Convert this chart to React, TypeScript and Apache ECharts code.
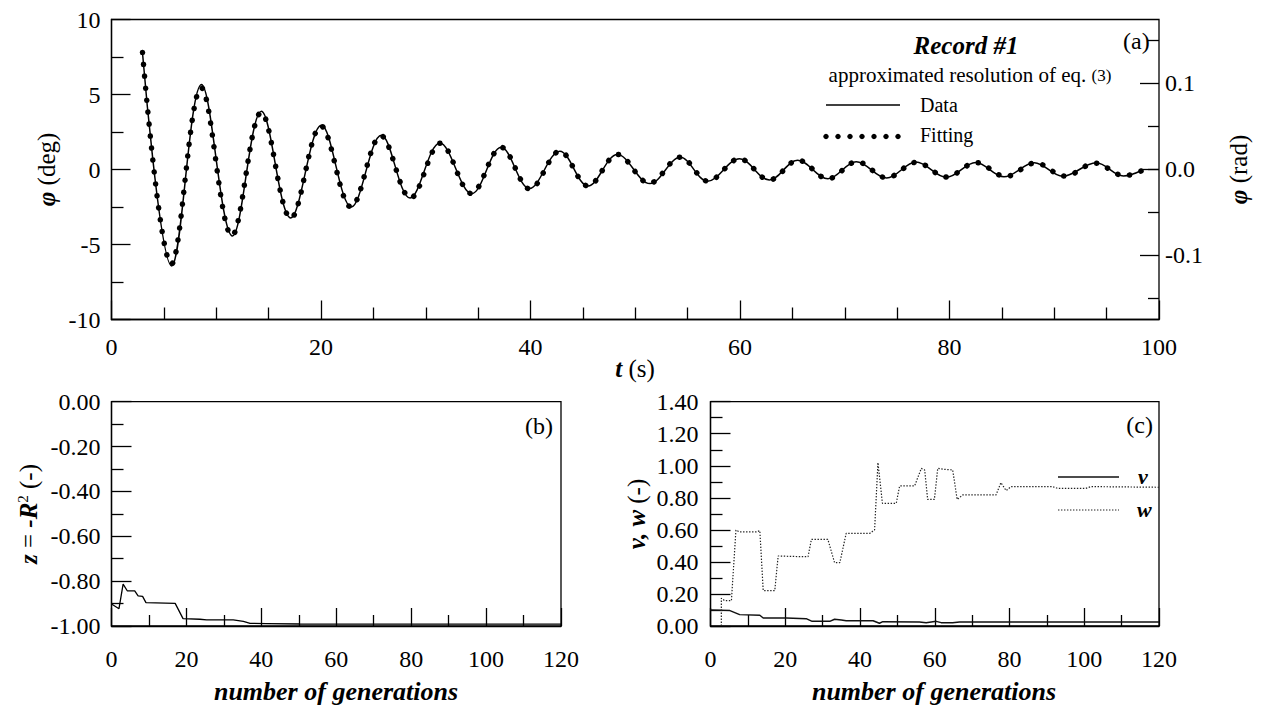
import React, { useEffect, useRef } from 'react';
import * as echarts from 'echarts';

// ---------- Panel (a): phi (deg) vs t (s) ----------
const tData = [2.96, 5.75, 8.59, 11.55, 14.31, 17.11, 20.04, 22.9, 25.76, 28.5, 31.35, 34.4, 37.2, 39.9, 42.8, 45.5, 48.3, 51.4, 54.3, 56.9, 59.95, 62.8, 65.5, 68.4, 71.1, 74.0, 76.8, 79.7, 82.5, 85.2, 88.1, 90.8, 94.0, 96.6, 98.4];
const phiData = [7.77, -6.43, 5.66, -4.43, 3.88, -3.23, 2.95, -2.5, 2.28, -1.9, 1.77, -1.61, 1.48, -1.27, 1.22, -1.1, 1.0, -0.94, 0.81, -0.78, 0.71, -0.7, 0.61, -0.61, 0.52, -0.57, 0.5, -0.52, 0.47, -0.49, 0.45, -0.45, 0.45, -0.43, -0.05];
const tFit = [2.96, 5.72, 8.57, 11.5, 14.3, 17.12, 20.0, 22.87, 25.72, 28.55, 31.4, 34.35, 37.2, 39.95, 42.8, 45.5, 48.3, 51.35, 54.3, 56.95, 59.95, 62.8, 65.55, 68.4, 71.15, 74.0, 76.85, 79.7, 82.55, 85.35, 88.2, 91.0, 93.9, 96.7, 98.3];
const phiFit = [7.8, -6.3, 5.45, -4.4, 3.8, -3.25, 2.9, -2.5, 2.25, -1.9, 1.75, -1.6, 1.48, -1.3, 1.22, -1.1, 1.0, -0.92, 0.82, -0.78, 0.72, -0.7, 0.62, -0.62, 0.52, -0.55, 0.48, -0.5, 0.46, -0.47, 0.44, -0.44, 0.42, -0.42, -0.1];

// ---------- Panel (b): z = -R^2 vs generations ----------
const genB = [0, 2, 3.1, 4.2, 6.2, 7.1, 8.3, 9.2, 17, 19.1, 23.6, 25.4, 32.5, 35.2, 37, 41.4, 50.3, 120];
const zB = [-0.902, -0.923, -0.813, -0.843, -0.843, -0.866, -0.868, -0.896, -0.899, -0.967, -0.97, -0.973, -0.973, -0.979, -0.988, -0.989, -0.991, -0.992];

// ---------- Panel (c): v, w vs generations ----------
const genV = [0, 5.2, 7.8, 13.2, 14.1, 20.3, 25.6, 27.2, 31.9, 33.2, 35, 36.3, 43.5, 45.2, 46.1, 55.9, 57.7, 60.4, 61.7, 64.8, 66.6, 120];
const vVals = [0.1, 0.096, 0.071, 0.067, 0.05, 0.05, 0.046, 0.029, 0.029, 0.042, 0.037, 0.033, 0.033, 0.017, 0.027, 0.025, 0.021, 0.029, 0.021, 0.021, 0.025, 0.025];
const genW = [2.9, 2.9, 3.8, 5.6, 6.8, 7.8, 12.3, 13.2, 14.1, 17.2, 18.1, 23.9, 26.1, 27, 31.4, 33.2, 34.6, 36.3, 42.6, 43.9, 44.8, 46, 49.7, 50.6, 54.6, 56.4, 57.3, 58.1, 59.9, 60.8, 62.6, 64.8, 66, 67.5, 76.4, 77.7, 79.1, 80.4, 91.5, 92.9, 100.4, 101.8, 120];
const wVals = [0, 0.173, 0.158, 0.158, 0.599, 0.587, 0.587, 0.595, 0.221, 0.221, 0.437, 0.433, 0.433, 0.541, 0.541, 0.395, 0.395, 0.578, 0.578, 0.6, 1.02, 0.766, 0.766, 0.874, 0.874, 0.984, 0.974, 0.79, 0.79, 0.984, 0.978, 0.974, 0.79, 0.818, 0.818, 0.895, 0.845, 0.87, 0.87, 0.859, 0.859, 0.87, 0.866];

const SERIF = 'Liberation Serif';
const BLK = '#000';

const pairs = (xs: number[], ys: number[]) => xs.map((x, i) => [x, ys[i]]);

function valAxis(o: any) {
  const {
    gridIndex, min, max, interval, minorSplit, tickLen, minorLen, margin, formatter, position, showLabel = true, showLine = true,
  } = o;
  return {
    gridIndex,
    type: 'value',
    position,
    min,
    max,
    interval,
    axisLine: { show: showLine, onZero: false, lineStyle: { color: BLK, width: 1.3 } },
    axisTick: { show: true, inside: true, length: tickLen, lineStyle: { color: BLK, width: 1.3 } },
    minorTick: minorSplit
      ? { show: true, splitNumber: minorSplit, length: minorLen, lineStyle: { color: BLK, width: 1.3 } }
      : { show: false },
    axisLabel: {
      show: showLabel,
      margin,
      fontSize: 24,
      fontFamily: SERIF,
      fontWeight: 'normal',
      fontStyle: 'normal',
      color: BLK,
      formatter,
    },
    splitLine: { show: false },
    minorSplitLine: { show: false },
  };
}

function hiddenAxis(gridIndex: number) {
  return { gridIndex, type: 'value', min: 0, max: 1, show: false };
}

const txt = (x: number, y: number, text: string, extra: any = {}, rotation = 0) => ({
  type: 'text',
  x,
  y,
  rotation,
  silent: true,
  style: {
    text,
    fill: BLK,
    fontFamily: SERIF,
    fontSize: 24,
    fontWeight: 'normal',
    fontStyle: 'normal',
    align: 'center',
    verticalAlign: 'middle',
    ...extra,
  },
});

const bi = { fontFamily: SERIF, fontWeight: 'bold', fontStyle: 'italic', fontSize: 25, fill: BLK };
const rg = (size: number) => ({ fontFamily: SERIF, fontWeight: 'normal', fontStyle: 'normal', fontSize: size, fill: BLK });

function buildOption() {
  const grids = [
    { left: 111.5, top: 19.5, width: 1047.5, height: 300 },
    { left: 111.5, top: 83.3, width: 1047.5, height: 171.9 },
    { left: 111.5, top: 40.3, width: 1047.5, height: 257.8 },
    { left: 111.5, top: 401.7, width: 449.5, height: 224.3 },
    { left: 710.5, top: 401.7, width: 448.5, height: 224.3 },
  ].map((g, i) => ({
    ...g,
    show: i === 0 || i >= 3,
    borderColor: BLK,
    borderWidth: 1.3,
    backgroundColor: 'transparent',
    containLabel: false,
    outerBoundsMode: 'none',
  }));

  const xAxis = [
    valAxis({ gridIndex: 0, min: 0, max: 100, interval: 20, minorSplit: 4, tickLen: 19, minorLen: 12, margin: 15 }),
    hiddenAxis(1),
    hiddenAxis(2),
    valAxis({ gridIndex: 3, min: 0, max: 120, interval: 20, minorSplit: 2, tickLen: 18, minorLen: 11, margin: 21 }),
    valAxis({ gridIndex: 4, min: 0, max: 120, interval: 20, minorSplit: 2, tickLen: 18, minorLen: 11, margin: 21 }),
  ];

  const yAxis = [
    valAxis({ gridIndex: 0, position: 'left', min: -10, max: 10, interval: 5, minorSplit: 2, tickLen: 19, minorLen: 12, margin: 11 }),
    valAxis({
      gridIndex: 1, position: 'right', min: -0.1, max: 0.1, interval: 0.1, minorSplit: 2, tickLen: 19, minorLen: 11, margin: 6,
      showLine: false, formatter: (v: number) => v.toFixed(1),
    }),
    valAxis({
      gridIndex: 2, position: 'right', min: -0.15, max: 0.15, interval: 0.15, tickLen: 11, margin: 6,
      showLine: false, showLabel: false,
    }),
    valAxis({
      gridIndex: 3, position: 'left', min: -1, max: 0, interval: 0.2, minorSplit: 2, tickLen: 20, minorLen: 12, margin: 11,
      formatter: (v: number) => v.toFixed(2),
    }),
    valAxis({
      gridIndex: 4, position: 'left', min: 0, max: 1.4, interval: 0.2, minorSplit: 2, tickLen: 20, minorLen: 12, margin: 12,
      formatter: (v: number) => v.toFixed(2),
    }),
  ];

  const series = [
    {
      name: 'Data', type: 'line', xAxisIndex: 0, yAxisIndex: 0, data: pairs(tData, phiData),
      smooth: 0.36, showSymbol: false, lineStyle: { color: BLK, width: 1.5 }, z: 2,
    },
    {
      name: 'Fitting', type: 'line', xAxisIndex: 0, yAxisIndex: 0, data: pairs(tFit, phiFit),
      smooth: 0.36, showSymbol: false, lineStyle: { color: BLK, width: 5.5, type: [0.1, 11.9], cap: 'round' }, z: 3,
    },
    {
      name: 'z', type: 'line', xAxisIndex: 3, yAxisIndex: 3, data: pairs(genB, zB),
      showSymbol: false, lineStyle: { color: BLK, width: 1.3 },
    },
    {
      name: 'v', type: 'line', xAxisIndex: 4, yAxisIndex: 4, data: pairs(genV, vVals),
      showSymbol: false, lineStyle: { color: '#111', width: 1.5 },
    },
    {
      name: 'w', type: 'line', xAxisIndex: 4, yAxisIndex: 4, data: pairs(genW, wVals),
      showSymbol: false, lineStyle: { color: '#222', width: 1.2, type: [1.4, 1.6] },
    },
  ];

  const dots = [0, 1, 2, 3, 4, 5, 6].map((i) => ({
    type: 'circle', silent: true, shape: { cx: 826 + 12 * i, cy: 136.5, r: 2.7 }, style: { fill: BLK },
  }));

  const graphic = [
    txt(966, 45, 'Record #1', { ...bi }),
    txt(970, 75, '{n|approximated resolution of eq. }{s|(3)}', {
      fontSize: 21,
      rich: { n: rg(21), s: rg(17) },
    }),
    { type: 'line', silent: true, shape: { x1: 826, y1: 105, x2: 900, y2: 105 }, style: { stroke: BLK, lineWidth: 1.5 } },
    ...dots,
    txt(920, 105, 'Data', { fontSize: 20, align: 'left' }),
    txt(920, 135, 'Fitting', { fontSize: 20, align: 'left' }),
    txt(1123, 41, '(a)', { fontSize: 24, align: 'left' }),
    txt(553, 426, '(b)', { fontSize: 24, align: 'right' }),
    txt(1153, 425, '(c)', { fontSize: 24, align: 'right' }),
    { type: 'line', silent: true, shape: { x1: 1058, y1: 477, x2: 1119, y2: 477 }, style: { stroke: '#111', lineWidth: 1.5 } },
    { type: 'line', silent: true, shape: { x1: 1058, y1: 510, x2: 1119, y2: 510 }, style: { stroke: '#222', lineWidth: 1.2, lineDash: [1.4, 1.6] } },
    txt(1138, 476, 'v', { ...bi, fontSize: 22, align: 'left' }),
    txt(1137, 509, 'w', { ...bi, fontSize: 22, align: 'left' }),
    // axis titles
    txt(46, 169.5, '{b|φ}{r| (deg)}', { fontSize: 25, rich: { b: bi, r: rg(25) } }, Math.PI / 2),
    txt(1238, 169.5, '{b|φ}{r| (rad)}', { fontSize: 25, rich: { b: bi, r: rg(25) } }, Math.PI / 2),
    txt(635, 368, '{b|t}{r| (s)}', { fontSize: 25, rich: { b: bi, r: rg(25) } }),
    txt(28, 514, '{b|z}{r| = }{b|-R}{s|2}{r| (-)}', { fontSize: 25, rich: { b: bi, r: rg(25), s: { ...rg(15), padding: [0, 0, 10, 0] } } }, Math.PI / 2),
    txt(636, 514, '{b|v, w}{r| (-)}', { fontSize: 25, rich: { b: bi, r: rg(25) } }, Math.PI / 2),
    txt(336, 691, 'number of generations', { ...bi, fontSize: 26 }),
    txt(934, 691, 'number of generations', { ...bi, fontSize: 26 }),
  ];

  return {
    animation: false,
    backgroundColor: '#fff',
    textStyle: { fontFamily: SERIF },
    grid: grids,
    xAxis,
    yAxis,
    series,
    graphic,
  };
}

export default function App() {
  const ref = useRef<HTMLDivElement>(null);
  useEffect(() => {
    if (!ref.current) return;
    const chart = echarts.init(ref.current, null, { renderer: 'svg' });
    chart.setOption(buildOption() as any);
    return () => chart.dispose();
  }, []);
  return (
    <div
      ref={ref}
      style={{ position: 'fixed', left: 0, top: 0, width: 1261, height: 707, background: '#fff' }}
    />
  );
}
